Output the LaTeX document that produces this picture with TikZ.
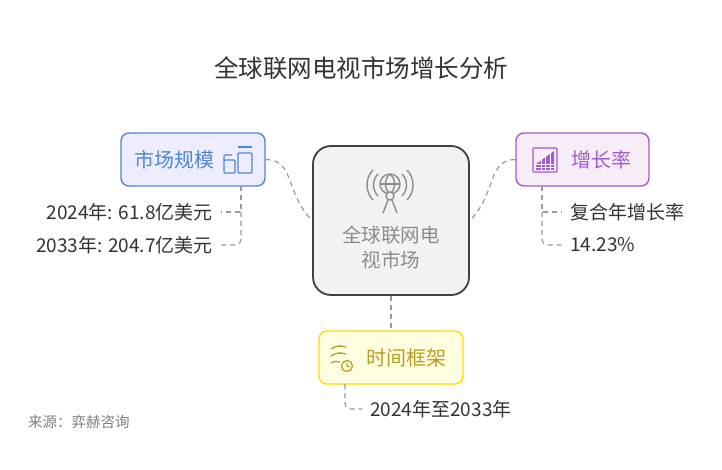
\documentclass[tikz,border=0pt]{standalone}
\usepackage{fontspec}
\setmainfont{Noto Sans CJK SC}
\begin{document}
\begin{tikzpicture}[x=1pt,y=-1pt,
  conn/.style={draw=gray!80,dashed,line width=1.2pt,dash pattern=on 5pt off 4pt},
  box/.style={rounded corners=8pt,line width=1.4pt,minimum height=53pt},
  lbl/.style={text=black!80,font=\fontsize{19}{22}\selectfont,inner sep=0pt}]
\definecolor{mblue}{HTML}{4F86D6}
\definecolor{mpurp}{HTML}{A35BD0}
\definecolor{myell}{HTML}{B8A020}
\useasboundingbox[fill=white] (0,0) rectangle (722,470);
\node[text=black!80] (title) at (361,68) {\fontsize{24.5}{28}\selectfont 全球联网电视市场增长分析};
% center
\node[draw=black!75,fill=black!5,rounded corners=18pt,line width=1.8pt,minimum width=156pt,minimum height=149pt] (c) at (391,220.5) {};
\node[text=black!45,align=center,font=\fontsize{19.5}{25}\selectfont] (ct) at (391,247) {全球联网电\\视市场};
\begin{scope}[draw=black!45,line width=1.4pt]
\draw (390,184) circle (10);
\draw (380,184)--(400,184);
\draw (390,174) .. controls (384,179) and (384,189) .. (390,194);
\draw (390,174) .. controls (396,179) and (396,189) .. (390,194);
\draw[fill=black!5] (390,196) circle (4);
\draw (388,200)--(383,213) (392,200)--(397,213);
\draw (378,174) .. controls (372,180) and (372,190) .. (378,196);
\draw (402,174) .. controls (408,180) and (408,190) .. (402,196);
\draw (373,170) .. controls (365,178) and (365,192) .. (373,200);
\draw (407,170) .. controls (415,178) and (415,192) .. (407,200);
\end{scope}
% market
\node[box,draw=mblue,fill=blue!7,minimum width=144pt] (m) at (193,159.5) {};
\node[text=mblue,font=\fontsize{20}{24}\selectfont] (mt) at (174,160) {市场规模};
\begin{scope}[draw=mblue,line width=1.4pt,rounded corners=1pt]
\draw (224,160) rectangle (235,173);
\draw (224,160)--(224,155)--(232,155);
\draw (238,153) rectangle (252,173);
\draw (238,147)--(252,147);
\end{scope}
% growth
\node[box,draw=mpurp,fill=violet!7,minimum width=133pt] (g) at (582.5,159.5) {};
\node[text=mpurp,font=\fontsize{20}{24}\selectfont] (gt) at (601,160) {增长率};
\begin{scope}[draw=mpurp,line width=1.3pt]
\draw[rounded corners=1pt] (533,148) rectangle (557,172);
\fill[mpurp] (536,164)--(554,151)--(554,170)--(536,170)--cycle;
\draw[white,line width=0.8pt] (536,164)--(554,164) (536,167.5)--(554,167.5) (541,150)--(541,170) (545.5,150)--(545.5,170) (550,150)--(550,170);
\end{scope}
% time
\node[box,draw=yellow!80!orange,fill=yellow!12,minimum width=144pt] (t) at (391,357.5) {};
\node[text=myell,font=\fontsize{20}{24}\selectfont] (tt) at (406,358) {时间框架};
\begin{scope}[draw=myell,line width=1.3pt]
\draw (331,349) to[bend left=25] (346,347);
\draw (331,356) to[bend left=25] (346,354);
\draw (331,363) to[bend left=25] (340,362);
\draw (347,366) circle (5.5);
\draw (347,363)--(347,366)--(349.5,367);
\end{scope}
% connectors
\draw[conn] (m.east) .. controls (295,160) and (285,193) .. (c.west);
\draw[conn] (g.west) .. controls (487,160) and (497,193) .. (c.east);
\draw[conn] (c.south) -- (t.north);
% market children
\node[lbl,anchor=east] (m1) at (213,212) {2024年: 61.8亿美元};
\node[lbl,anchor=east] (m2) at (213,245) {2033年: 204.7亿美元};
\coordinate (mb) at (241,186);
\draw[conn] (mb) -- (241,212) -- ([xshift=8pt]m1.east);
\draw[conn,rounded corners=6pt] (241,212) -- (241,245) -- ([xshift=8pt]m2.east);
% growth children
\node[lbl,anchor=west] (g1) at (570,212) {复合年增长率};
\node[lbl,anchor=west] (g2) at (570,245) {14.23\%};
\draw[conn] (542,186) -- (542,212) -- ([xshift=-8pt]g1.west);
\draw[conn,rounded corners=6pt] (542,212) -- (542,245) -- ([xshift=-8pt]g2.west);
% time child
\node[lbl,anchor=west] (t1) at (370,409) {2024年至2033年};
\draw[conn,rounded corners=6pt] (345,384) -- (345,409) -- ([xshift=-8pt]t1.west);
\node[anchor=west,inner sep=0pt,text=black!50,font=\fontsize{14.5}{16}\selectfont] (src) at (28,422) {来源：弈赫咨询};
\end{tikzpicture}
\end{document}
